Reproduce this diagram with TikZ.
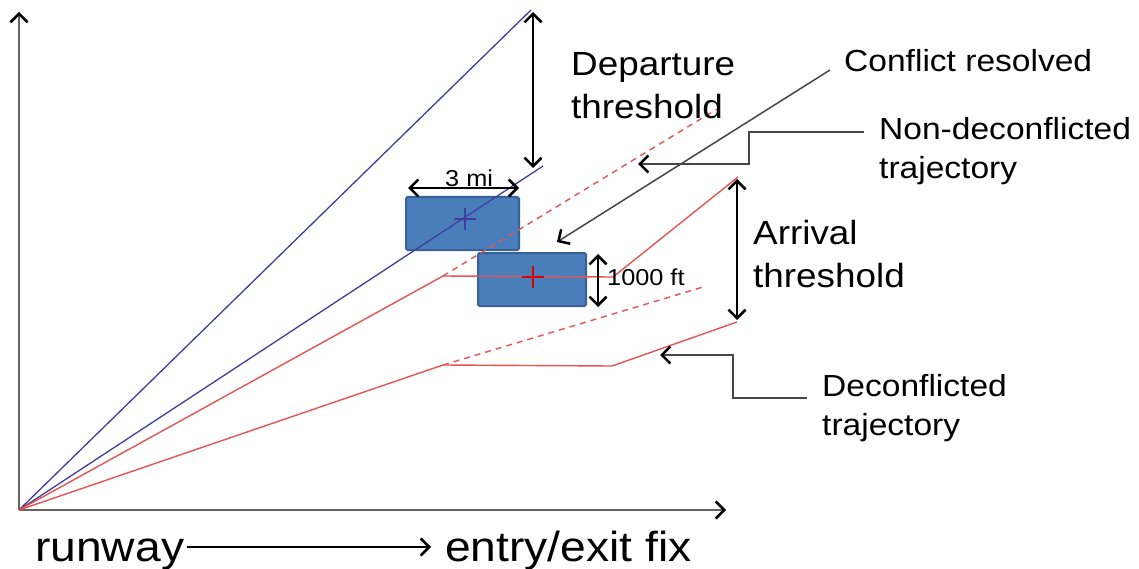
\documentclass[tikz,border=0pt]{standalone}
\usepackage{fontspec}
\setmainfont[FakeStretch=1.1]{Liberation Sans}
\usetikzlibrary{arrows.meta}

\definecolor{depblue}{RGB}{62,62,158}
\definecolor{arrred}{RGB}{228,84,84}
\definecolor{boxfill}{RGB}{74,126,187}
\definecolor{boxedge}{RGB}{56,98,148}
\definecolor{leader}{RGB}{70,70,70}
\definecolor{axisgray}{RGB}{100,100,100}

\begin{document}
\begin{tikzpicture}[x=1pt,y=-1pt,
  tip/.tip={Straight Barb[length=8.5pt,width=17pt,line width=2.5pt,color=black]},
  axisline/.style={draw=axisgray,line width=2.4pt,-tip},
  depline/.style={draw=depblue,line width=1.3pt},
  arrline/.style={draw=arrred,line width=1.4pt,line join=round},
  arrdash/.style={draw=arrred,line width=1.4pt,dash pattern=on 6pt off 5pt},
  sepbox/.style={fill=boxfill,draw=boxedge,line width=2pt,rounded corners=1.5pt},
  measure/.style={draw=black,line width=1.5pt,tip-tip},
  leaderline/.style={draw=leader,line width=1.5pt,-tip},
  bigtext/.style={inner sep=0pt,anchor=base west,align=left,font=\fontsize{33.5pt}{43pt}\selectfont},
  midtext/.style={inner sep=0pt,anchor=base west,align=left,font=\fontsize{30.5pt}{39pt}\selectfont},
  smalltext/.style={inner sep=0pt,anchor=base west,font=\fontsize{23pt}{26pt}\selectfont},
  axistext/.style={inner sep=0pt,anchor=base west,font=\fontsize{42pt}{48pt}\selectfont}]

\useasboundingbox[fill=white] (0,0) rectangle (1139,569);

% key points of the trajectories
\coordinate (O) at (19,510);
\coordinate (Ytop) at (19,12);
\coordinate (Xend) at (726,510);
\coordinate (B1) at (531,10);
\coordinate (B2) at (543,166);
\coordinate (R1a) at (443,276);
\coordinate (R1b) at (613,277);
\coordinate (R1c) at (738,177);
\coordinate (R1d) at (717,109);
\coordinate (R2a) at (443,365);
\coordinate (R2b) at (612,366);
\coordinate (R2c) at (737,322);
\coordinate (R2d) at (703,287);

% separation boxes around the two aircraft
\path[sepbox] (406,197) rectangle (519,250);
\path[sepbox] (478,253) rectangle (586,306);

% axes
\draw[axisline] (O) -- (Ytop);
\draw[axisline] (O) -- (Xend);

% departure trajectories
\draw[depline] (O) -- (B1);
\draw[depline] (O) -- (B2);

% arrival trajectories, with the straight-in alternatives dashed
\draw[arrdash] (R1a) -- (R1d);
\draw[arrdash] (R2a) -- (R2d);
\draw[arrline] (O) -- (R1a) -- (R1b) -- (R1c);
\draw[arrline] (O) -- (R2a) -- (R2b) -- (R2c);

% aircraft positions
\coordinate (Pd) at (465,219);
\coordinate (Pa) at (533,277);
\draw[depblue,line width=1.6pt] ([xshift=-11pt]Pd) -- ([xshift=11pt]Pd)
  ([yshift=-11pt]Pd) -- ([yshift=11pt]Pd);
\draw[red!85!black,line width=1.6pt] ([xshift=-11pt]Pa) -- ([xshift=11pt]Pa)
  ([yshift=-11pt]Pa) -- ([yshift=11pt]Pa);

% separation measures
\coordinate (MiL) at (408,188);
\coordinate (MiR) at (519,188);
\draw[measure] (MiL) -- (MiR);
\node[smalltext] (mi) at (445,187) {3 mi};

\coordinate (FtT) at (598,254);
\coordinate (FtB) at (598,307);
\draw[measure] (FtT) -- (FtB);
\node[smalltext] (ft) at (607,285) {1000 ft};

% thresholds (a two-line node sits on the baseline of its last line)
\coordinate (DepT) at (533,12);
\coordinate (DepB) at (533,168);
\draw[measure] (DepT) -- (DepB);
\node[bigtext] (dep) at (571,119) {Departure\\threshold};

\coordinate (ArrT) at (737,179);
\coordinate (ArrB) at (737,320);
\draw[measure] (ArrT) -- (ArrB);
\node[bigtext] (arr) at (753,287) {Arrival\\threshold};

% callouts
\node[midtext] (conf) at (844,72) {Conflict resolved};
\coordinate (ConfTip) at (557,242);
\draw[leaderline] ([xshift=-14pt,yshift=2pt]conf.base west) -- (ConfTip);

\node[midtext] (nondec) at (879,179) {Non-deconflicted\\trajectory};
\coordinate (NdTip) at (638,164);
\draw[leaderline] ([xshift=-15pt,yshift=47pt]nondec.base west) -- ++(-115,0) |- (NdTip);

\node[midtext] (dec) at (822,435) {Deconflicted\\trajectory};
\coordinate (DcTip) at (660,355);
\draw[leaderline] ([xshift=-15pt,yshift=37pt]dec.base west) -- ++(-74,0) |- (DcTip);

% horizontal axis caption
\node[axistext] (runway) at (35,561) {runway};
\node[axistext] (fix) at (445,561) {entry/exit fix};
\draw[draw=black,line width=1.4pt,-tip] ([shift={(3,-14)}]runway.base east) -- ([shift={(-14,-14)}]fix.base west);

\end{tikzpicture}
\end{document}
